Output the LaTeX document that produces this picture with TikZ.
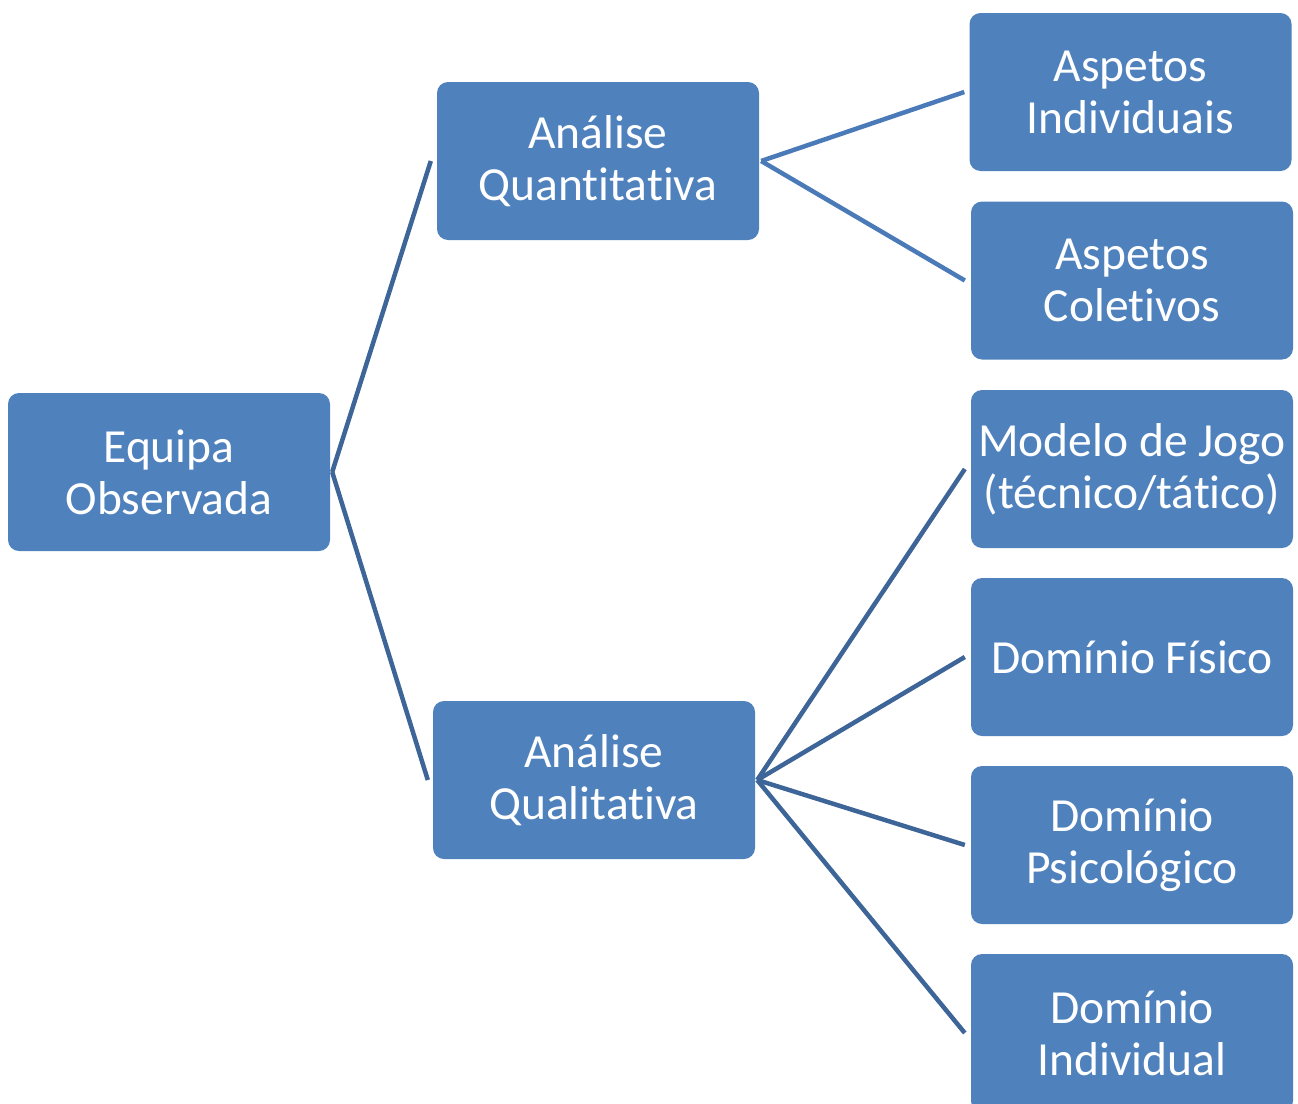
\documentclass[tikz,border=0pt]{standalone}
\usepackage{fontspec}
\setmainfont{Carlito}[Ligatures=NoCommon]
\definecolor{boxblue}{HTML}{4F81BD}
\definecolor{linedark}{HTML}{3D6598}
\definecolor{linelight}{HTML}{4A7AB8}
\begin{document}
\begin{tikzpicture}[x=1pt,y=-1pt,
  box/.style={fill=boxblue, draw=none, rounded corners=11pt, minimum width=322pt, minimum height=158pt,
    text=white, align=center, inner sep=0pt, font=\fontsize{47.5}{52}\selectfont},
  lnk1/.style={draw=linedark, line width=4.5pt},
  lnk2/.style={draw=linelight, line width=4.5pt}]
\useasboundingbox (0,0) rectangle (1298,1103);
\node[box] (eq) at (169,472) {Equipa\\Observada};
\node[box] (aq) at (598,161) {Análise\\Quantitativa};
\node[box] (al) at (594,780) {Análise\\Qualitativa};
\node[box] (ai) at (1130.5,92) {Aspetos\\Individuais};
\node[box] (ac) at (1132,280.5) {Aspetos\\Coletivos};
\node[box] (mj) at (1132,469) {Modelo de Jogo\\(técnico/tático)};
\node[box] (df) at (1132,657) {Domínio Físico};
\node[box] (dp) at (1132,845) {Domínio\\Psicológico};
\node[box] (di) at (1132,1033) {Domínio\\Individual};
\draw[lnk1] ([xshift=2pt]eq.east) -- ([xshift=-6pt]aq.west);
\draw[lnk1] ([xshift=2pt]eq.east) -- ([xshift=-5pt]al.west);
\draw[lnk2] ([xshift=2pt]aq.east) -- ([xshift=-5pt]ai.west);
\draw[lnk2] ([xshift=2pt]aq.east) -- ([xshift=-6pt]ac.west);
\draw[lnk1] ([xshift=2pt]al.east) -- ([xshift=-6pt]mj.west);
\draw[lnk1] ([xshift=2pt]al.east) -- ([xshift=-6pt]df.west);
\draw[lnk1] ([xshift=2pt]al.east) -- ([xshift=-6pt]dp.west);
\draw[lnk1] ([xshift=2pt]al.east) -- ([xshift=-6pt]di.west);
\end{tikzpicture}
\end{document}
